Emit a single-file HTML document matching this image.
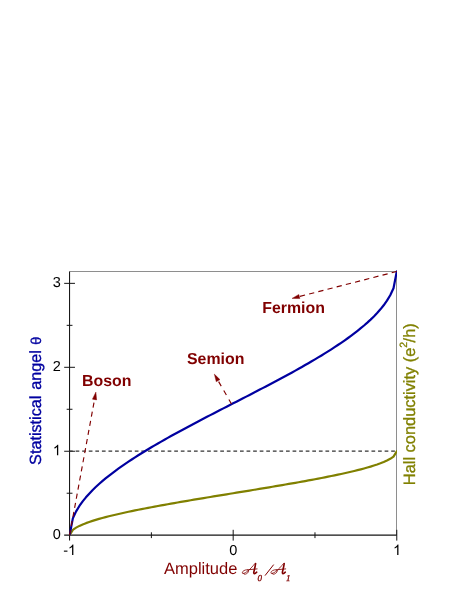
<!DOCTYPE html>
<html><head><meta charset="utf-8"><title>chart</title>
<style>
html,body{margin:0;padding:0;background:#fff;}
body{width:471px;height:609px;overflow:hidden;}
svg{display:block;will-change:transform;}
text{font-family:"Liberation Sans",sans-serif;text-rendering:geometricPrecision;}
.tk{font-size:14.5px;fill:#000;}
.ann{font-size:15.9px;font-weight:bold;fill:#800000;}
</style></head><body>
<svg width="471" height="609" viewBox="0 0 471 609">
<rect width="471" height="609" fill="#fff"/>
<!-- frame top/right -->
<path d="M69.58,271.5 H396.5 V535.20" fill="none" stroke="#8e8e8e" stroke-width="1"/>
<!-- axes -->
<g stroke="#141414" fill="none">
<line x1="69.55" y1="271.46" x2="69.55" y2="540.60" stroke-width="1.05"/>
<line x1="64.18" y1="535.05" x2="396.78" y2="535.05" stroke-width="1.2"/>
<g stroke-width="1">
<line x1="66.68" y1="493.23" x2="72.48" y2="493.23"/>
<line x1="64.18" y1="451.25" x2="74.98" y2="451.25"/>
<line x1="66.68" y1="409.28" x2="72.48" y2="409.28"/>
<line x1="64.18" y1="367.30" x2="74.98" y2="367.30"/>
<line x1="66.68" y1="325.33" x2="72.48" y2="325.33"/>
<line x1="64.18" y1="283.35" x2="74.98" y2="283.35"/>
<line x1="151.38" y1="532.30" x2="151.38" y2="538.10"/>
<line x1="233.18" y1="529.80" x2="233.18" y2="540.60"/>
<line x1="314.98" y1="532.30" x2="314.98" y2="538.10"/>
<line x1="396.78" y1="529.80" x2="396.78" y2="540.60"/>
</g>
</g>
<!-- dashed y=1 -->
<line x1="69.58" y1="451.10" x2="396.78" y2="451.10" stroke="#333" stroke-width="1.2" stroke-dasharray="3.7 2.875" stroke-dashoffset="0.55"/>
<!-- curves -->
<clipPath id="pc"><rect x="69.2" y="265" width="327.8" height="270.3"/></clipPath>
<g clip-path="url(#pc)">
<path d="M69.58,535.20 L72.85,529.85 L76.12,527.62 L79.40,525.90 L82.67,524.44 L85.94,523.15 L89.21,521.97 L92.48,520.89 L95.76,519.87 L99.03,518.92 L102.30,518.00 L105.57,517.13 L108.84,516.29 L112.12,515.49 L115.39,514.70 L118.66,513.95 L121.93,513.21 L125.20,512.49 L128.48,511.78 L131.75,511.10 L135.02,510.42 L138.29,509.76 L141.56,509.11 L144.84,508.47 L148.11,507.84 L151.38,507.22 L154.65,506.60 L157.92,506.00 L161.20,505.40 L164.47,504.81 L167.74,504.22 L171.01,503.64 L174.28,503.07 L177.56,502.50 L180.83,501.93 L184.10,501.37 L187.37,500.81 L190.64,500.25 L193.92,499.70 L197.19,499.15 L200.46,498.61 L203.73,498.06 L207.00,497.52 L210.28,496.98 L213.55,496.44 L216.82,495.90 L220.09,495.37 L223.36,494.83 L226.64,494.29 L229.91,493.76 L233.18,493.23 L236.45,492.69 L239.72,492.16 L243.00,491.62 L246.27,491.08 L249.54,490.55 L252.81,490.01 L256.08,489.47 L259.36,488.93 L262.63,488.39 L265.90,487.84 L269.17,487.30 L272.44,486.75 L275.72,486.20 L278.99,485.64 L282.26,485.08 L285.53,484.52 L288.80,483.95 L292.08,483.38 L295.35,482.81 L298.62,482.23 L301.89,481.64 L305.16,481.05 L308.44,480.45 L311.71,479.85 L314.98,479.23 L318.25,478.61 L321.52,477.98 L324.80,477.34 L328.07,476.69 L331.34,476.03 L334.61,475.35 L337.88,474.67 L341.16,473.96 L344.43,473.24 L347.70,472.50 L350.97,471.75 L354.24,470.96 L357.52,470.16 L360.79,469.32 L364.06,468.45 L367.33,467.53 L370.60,466.58 L373.88,465.56 L377.15,464.48 L380.42,463.30 L383.69,462.01 L386.96,460.55 L390.24,458.83 L393.51,456.60 L396.78,451.25" fill="none" stroke="#808000" stroke-width="2.2" stroke-linejoin="round" stroke-linecap="round"/>
<path d="M69.58,535.20 L72.85,518.38 L76.12,511.38 L79.40,505.97 L82.67,501.39 L85.94,497.34 L89.21,493.65 L92.48,490.24 L95.76,487.05 L99.03,484.04 L102.30,481.18 L105.57,478.44 L108.84,475.81 L112.12,473.27 L115.39,470.81 L118.66,468.43 L121.93,466.11 L125.20,463.84 L128.48,461.63 L131.75,459.47 L135.02,457.35 L138.29,455.27 L141.56,453.23 L144.84,451.22 L148.11,449.24 L151.38,447.29 L154.65,445.36 L157.92,443.46 L161.20,441.58 L164.47,439.72 L167.74,437.88 L171.01,436.06 L174.28,434.25 L177.56,432.46 L180.83,430.68 L184.10,428.91 L187.37,427.16 L190.64,425.41 L193.92,423.68 L197.19,421.95 L200.46,420.24 L203.73,418.53 L207.00,416.82 L210.28,415.12 L213.55,413.43 L216.82,411.74 L220.09,410.05 L223.36,408.37 L226.64,406.69 L229.91,405.01 L233.18,403.33 L236.45,401.65 L239.72,399.97 L243.00,398.29 L246.27,396.61 L249.54,394.92 L252.81,393.23 L256.08,391.54 L259.36,389.84 L262.63,388.14 L265.90,386.43 L269.17,384.71 L272.44,382.99 L275.72,381.25 L278.99,379.51 L282.26,377.75 L285.53,375.99 L288.80,374.21 L292.08,372.42 L295.35,370.61 L298.62,368.78 L301.89,366.94 L305.16,365.08 L308.44,363.20 L311.71,361.30 L314.98,359.38 L318.25,357.42 L321.52,355.44 L324.80,353.43 L328.07,351.39 L331.34,349.31 L334.61,347.19 L337.88,345.03 L341.16,342.82 L344.43,340.56 L347.70,338.24 L350.97,335.85 L354.24,333.40 L357.52,330.86 L360.79,328.22 L364.06,325.49 L367.33,322.62 L370.60,319.61 L373.88,316.42 L377.15,313.01 L380.42,309.33 L383.69,305.27 L386.96,300.69 L390.24,295.29 L393.51,288.28 L396.78,271.46" fill="none" stroke="#0000a0" stroke-width="2.2" stroke-linejoin="round" stroke-linecap="round"/>
</g>
<!-- arrows -->
<line x1="69.58" y1="535.20" x2="94.53" y2="399.52" stroke="#800000" stroke-width="1.15" stroke-dasharray="5.1 4.17" stroke-dashoffset="0.0" fill="none"/><polygon points="95.90,392.05 96.64,399.91 92.41,399.14" fill="#800000" stroke="#800000" stroke-width="0.4" stroke-linejoin="round"/><line x1="231.50" y1="404.00" x2="218.09" y2="380.69" stroke="#800000" stroke-width="1.15" stroke-dasharray="5.2 5.1" stroke-dashoffset="0.0" fill="none"/><polygon points="214.30,374.10 219.95,379.62 216.23,381.76" fill="#800000" stroke="#800000" stroke-width="0.4" stroke-linejoin="round"/><line x1="396.78" y1="271.46" x2="299.36" y2="296.51" stroke="#800000" stroke-width="1.15" stroke-dasharray="5.25 4.22" stroke-dashoffset="0.0" fill="none"/><polygon points="292.00,298.40 298.83,294.43 299.90,298.59" fill="#800000" stroke="#800000" stroke-width="0.4" stroke-linejoin="round"/>
<g class="tk"><text x="60.9" y="539.10" text-anchor="end">0</text><text x="60.9" y="371.20" text-anchor="end">2</text><text x="60.9" y="287.25" text-anchor="end">3</text><path transform="translate(52.84,455.15) scale(0.007080,-0.007080)" d="M763,0 H583 V1147 Q518,1085 412.5,1023 T223,930 V1104 Q373,1175 485,1275 T644,1469 H763 Z" fill="#000"/><text x="233.18" y="555.0" text-anchor="middle">0</text><path transform="translate(393.05,555.00) scale(0.007080,-0.007080)" d="M763,0 H583 V1147 Q518,1085 412.5,1023 T223,930 V1104 Q373,1175 485,1275 T644,1469 H763 Z" fill="#000"/><text x="63.13" y="555.0">-</text><path transform="translate(67.96,555.00) scale(0.007080,-0.007080)" d="M763,0 H583 V1147 Q518,1085 412.5,1023 T223,930 V1104 Q373,1175 485,1275 T644,1469 H763 Z" fill="#000"/></g>
<g class="ann">
<text x="82.1" y="385.7">Boson</text>
<text x="187" y="363.7">Semion</text>
<text x="262.2" y="313.0">Fermion</text>
</g>
<text transform="translate(40.5,464.9) rotate(-90)" font-size="16.2" fill="#0000a0" stroke="#0000a0" stroke-width="0.3" word-spacing="1.3">Statistical angel <tspan font-size="14.4" dx="-0.3">θ</tspan></text>
<text transform="translate(415.2,485.2) rotate(-90)" font-size="16.4" fill="#808000" stroke="#808000" stroke-width="0.3">Hall conductivity (e<tspan font-size="10.5" dy="-8.4" dx="-0.1">2</tspan><tspan dy="8.4" dx="-0.5">/h)</tspan></text>
<text x="164" y="574.2" font-size="16.5" fill="#800000">Amplitude</text>
<defs>
<g id="sA" fill="none" stroke="#800000" stroke-linecap="round" stroke-linejoin="round">
<path d="M0.4,0.3 C0.0,3.4 -0.9,6.7 -1.4,8.9 C-1.7,10.2 -0.8,10.6 0.1,10.0 L1.5,8.9" stroke-width="1.6"/>
<path d="M-0.3,0.3 C-2.5,3 -5.5,6.5 -8.3,8.4 C-10.5,9.9 -12.8,11 -12.9,9.5 C-13,7.8 -10,6.3 -7.8,6.5 C-5.8,6.7 -6.5,9.2 -8.5,10.3 C-10,11.2 -11.8,11.3 -11.5,10" stroke-width="0.8"/>
<path d="M-7.6,6.5 L1.9,5.6" stroke-width="0.85"/>
</g>
</defs>
<use href="#sA" x="255.2" y="563.3"/>
<use href="#sA" x="283.8" y="563.3"/>
<line x1="265" y1="575.6" x2="273.7" y2="564.6" stroke="#800000" stroke-width="1"/>
<text x="257.4" y="581.0" font-family="Liberation Serif" font-style="italic" font-size="9" fill="#800000" stroke="#800000" stroke-width="0.3" style="font-family:'Liberation Serif',serif">0</text>
<text x="285.9" y="581.0" font-style="italic" font-size="9" fill="#800000" stroke="#800000" stroke-width="0.3" style="font-family:'Liberation Serif',serif">1</text>
</svg>
</body></html>
